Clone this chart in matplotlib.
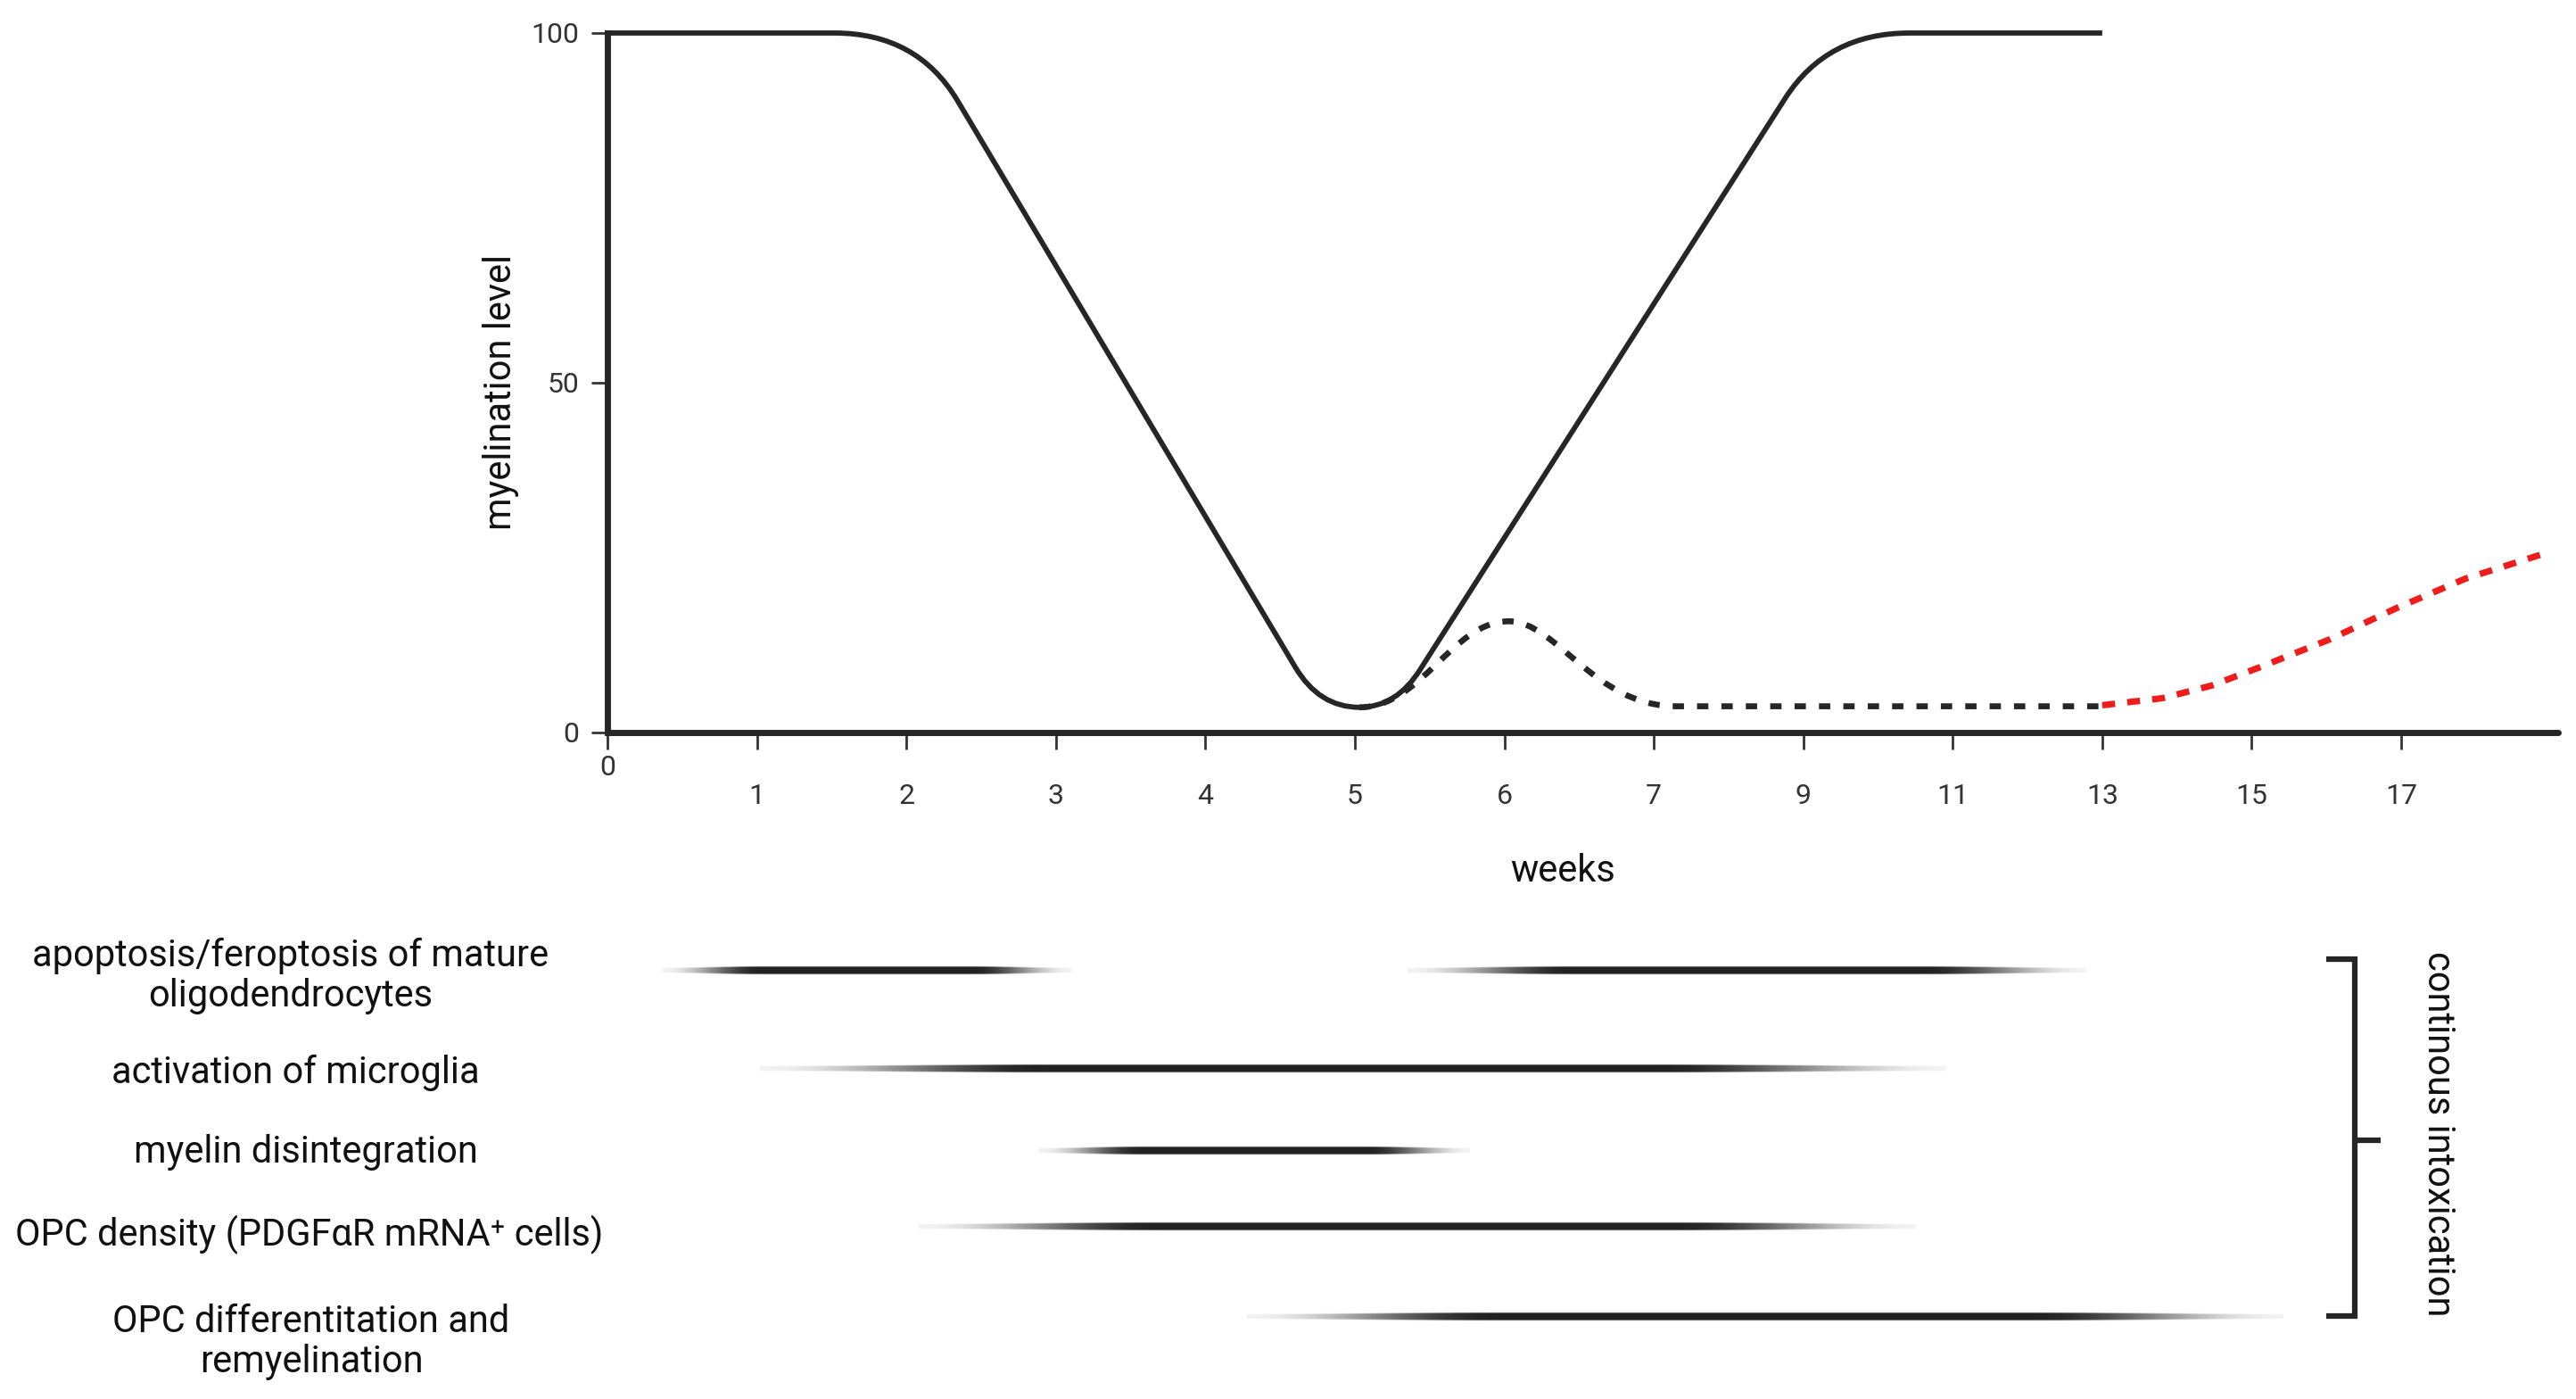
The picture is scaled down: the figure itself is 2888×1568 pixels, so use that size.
import numpy as np
import matplotlib
matplotlib.use("Agg")
import matplotlib.pyplot as plt
from matplotlib.path import Path
from matplotlib.patches import PathPatch

plt.rcParams['font.family'] = ['Roboto', 'DejaVu Sans']

# x axis: evenly spaced tick positions, labelled in weeks
week_labels = ['0', '1', '2', '3', '4', '5', '6', '7', '9', '11', '13', '15', '17']

# solid curve (position on x axis, myelination level), corners are bezier controls
solid_x = [0, 1.52, 2.07, 2.34, 4.60, 4.76, 5.03, 5.28, 5.44, 7.88, 8.16, 8.71, 10.0]
solid_y = [100, 100, 100, 90.4, 9.4, 3.6, 3.6, 3.6, 9.1, 90.7, 100, 100, 100]

# dashed black curve (bump after week 5, then flat)
dash_x = [5.03, 5.45, 5.65, 6.03, 6.35, 6.60, 7.15, 10.0]
dash_y = [3.6, 3.6, 15.9, 15.9, 15.9, 3.75, 3.75, 3.75]

# red dashed curve (recovery after week 13)
red_x = [10.0, 10.40, 10.73, 11.05, 11.52, 11.97, 12.43, 12.93]
red_y = [3.9, 4.9, 6.7, 9.3, 13.3, 17.8, 22.0, 25.4]

# processes below the chart and their spans (x axis positions)
process_labels = [
    "apoptosis/feroptosis of mature\noligodendrocytes",
    "activation of microglia",
    "myelin disintegration",
    "OPC density (PDGF\u03b1R mRNA\u207a cells)",
    "OPC differentitation and\nremyelination",
]
process_spans = [
    [(0.37, 3.10), (5.35, 9.89)],
    [(1.02, 8.95)],
    [(2.89, 5.77)],
    [(2.08, 8.75)],
    [(4.28, 11.21)],
]

W, H = 2888, 1568
fig = plt.figure(figsize=(W / 100, H / 100), dpi=100)

ax = fig.add_axes([681 / W, 1 - 821 / H, (2868 - 681) / W, (821 - 37) / H])
ink = '#262626'

# solid curve
C3, L = Path.CURVE3, Path.LINETO
solid_codes = [Path.MOVETO, L, C3, C3, L, C3, C3, C3, C3, L, C3, C3, L]
ax.add_patch(PathPatch(Path(np.column_stack([solid_x, solid_y]), solid_codes),
                       fill=False, lw=4.2, edgecolor=ink, clip_on=False,
                       capstyle='butt', joinstyle='round', zorder=3))

C4 = Path.CURVE4
dash_codes = [Path.MOVETO, C4, C4, C4, C4, C4, C4, L]
ax.add_patch(PathPatch(Path(np.column_stack([dash_x, dash_y]), dash_codes),
                       fill=False, lw=4.8, edgecolor=ink, linestyle=(0, (1.9, 2.2)),
                       capstyle='butt', zorder=3))

ax.plot(red_x, red_y, color='#f01c1c', lw=5.2, linestyle=(0, (2.0, 1.9)),
        solid_capstyle='butt', dash_capstyle='butt', zorder=3)

ax.set_xlim(0, 13.05)
ax.set_ylim(0, 100)
for s in ['top', 'right']:
    ax.spines[s].set_visible(False)
for s in ['left', 'bottom']:
    ax.spines[s].set_linewidth(5)
    ax.spines[s].set_color(ink)
ax.spines['bottom'].set_capstyle('round')

pos = np.arange(len(week_labels))
ax.set_xticks(pos[1:], week_labels[1:])
ax.set_xticks(pos[:1], week_labels[:1], minor=True)
ax.set_yticks([0, 50, 100], ['0', '50', '100'])
ax.tick_params(axis='x', which='both', length=14, width=2, color='#333333',
               labelsize=23, labelcolor='#333333')
ax.tick_params(axis='x', which='major', pad=27)
ax.tick_params(axis='x', which='minor', pad=4)
ax.tick_params(axis='y', length=13, width=2, color='#333333', pad=10,
               labelsize=23, labelcolor='#333333')

fig.text(1752 / W, 1 - 976 / H, 'weeks', ha='center', va='center', fontsize=30, color='#111111')
fig.text(561 / W, 1 - 439 / H, 'myelination level', ha='center', va='center',
         rotation=90, fontsize=30, color='#111111')

# lower panel: fading bars, same x scale as the chart
ax2 = fig.add_axes([681 / W, 0, (2868 - 681) / W, 1], zorder=-1)
ax2.set_facecolor('none')
ax2.axis('off')

row_y = [1088, 1198, 1290, 1375, 1476]
text_y = [1094, 1202, 1291, 1384, 1504]
text_x = [326, 331, 343, 347, 349]
bar_h = 11

# soft stroke: slightly thinner and lighter towards both ends
t = np.linspace(0, 1, 600)
fade = np.clip(np.minimum(t, 1 - t) / 0.24, 0, 1)
fade = fade * fade * (3 - 2 * fade)
v = np.linspace(-1, 1, 25)
half = 0.5 + 0.3 * fade
prof = np.clip((half[None, :] - np.abs(v)[:, None]) / 0.25 + 0.5, 0, 1)
rgba = np.zeros((len(v), len(t), 4))
rgba[..., :3] = 0.13
rgba[..., 3] = prof * (0.06 + 0.94 * fade[None, :])

for spans, y in zip(process_spans, row_y):
    for x0, x1 in spans:
        ax2.imshow(rgba, extent=[x0, x1, y + bar_h / 2, y - bar_h / 2],
                   aspect='auto', interpolation='bilinear')

for lab, x, y in zip(process_labels, text_x, text_y):
    fig.text(x / W, 1 - y / H, lab, ha='center', va='center', fontsize=30,
             color='#111111', linespacing=1.15)

# bracket for continuous intoxication
bx, bl, br = 11.69, 11.50, 11.86
ax2.plot([bl, bx, bx, bl], [1075, 1075, 1475, 1475], color=ink, lw=4.5,
         solid_joinstyle='miter', solid_capstyle='butt')
ax2.plot([bx, br], [1278, 1278], color=ink, lw=4.5, solid_capstyle='butt')
ax2.text(12.25, 1271, 'continous intoxication', rotation=-90, ha='center', va='center',
         fontsize=30, color='#111111')

ax2.set_xlim(0, 13.05)
ax2.set_ylim(H, 0)

fig.savefig('out.png', dpi=100)
